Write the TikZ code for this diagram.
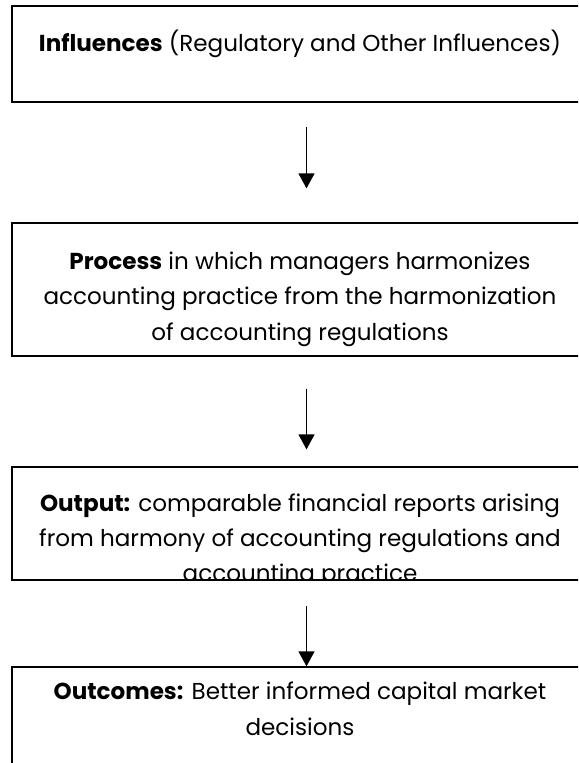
\documentclass[tikz,border=0pt]{standalone}
\usepackage{fontspec}
\setmainfont{Poppins}
\usetikzlibrary{arrows.meta}
\begin{document}
\begin{tikzpicture}[x=0.75pt,y=-0.75pt,
  box/.style={draw, line width=0.9pt, rectangle, inner sep=0pt, minimum width=441.75pt},
  txt/.style={align=center, inner sep=0pt, font=\fontsize{17.3}{26.6}\selectfont},
  arr/.style={line width=1.1pt, -{Triangle[width=12pt,length=11.3pt]}}]
\useasboundingbox (0,0) rectangle (578,763);
\fill[white] (0,0) rectangle (578,763);
\clip (0,0) rectangle (578,763);
\node[box, minimum height=72pt] (b1) at (306.5,54) {};
\node[box, minimum height=99.75pt] (b2) at (306.5,289.5) {};
\node[box, minimum height=84.75pt] (b3) at (306.5,523.5) {};
\node[box, minimum height=122.25pt] (b4) at (306.5,748.5) {};
\node[txt] (t1) at (300,44) {\textbf{Influences} (Regulatory and Other Influences)};
\node[txt] (t2) at (300,299) {\textbf{Process} in which managers harmonizes\\accounting practice from the harmonization\\of accounting regulations};
\begin{scope}
\clip (b3.north west) rectangle (b3.south east);
\node[txt, font=\fontsize{17.3}{26.2}\selectfont] (t3) at (300,541) {\textbf{Output:} comparable financial reports arising\\from harmony of accounting regulations and\\accounting practice};
\end{scope}
\node[txt] (t4) at (300,709) {\textbf{Outcomes:} Better informed capital market\\decisions};
\draw[arr, shorten <=18pt, shorten >=25.5pt] (b1.south) -- (b2.north);
\draw[arr, shorten <=24pt, shorten >=12.75pt] (b2.south) -- (b3.north);
\draw[arr, shorten <=19pt] (b3.south) -- (b4.north);
\end{tikzpicture}
\end{document}
